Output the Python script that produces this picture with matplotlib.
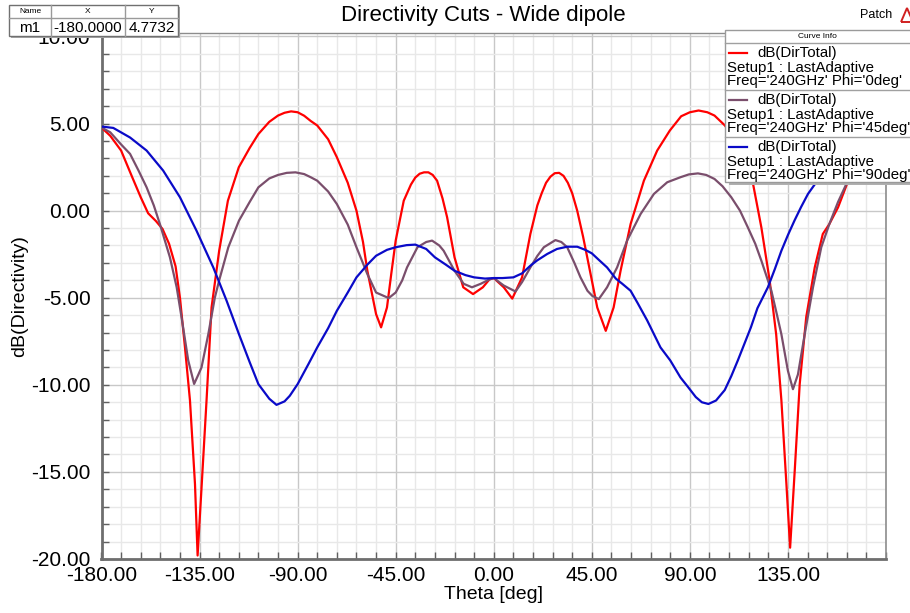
import matplotlib
matplotlib.use("Agg")
import matplotlib.pyplot as plt
from matplotlib.ticker import MultipleLocator, FixedLocator
from matplotlib.patches import Rectangle, Polygon
from matplotlib.lines import Line2D

plt.rcParams['font.family'] = ['Liberation Sans', 'DejaVu Sans']

# ---- directivity cuts (dB) ----
theta_phi0 = [-180, -176, -171, -166, -162, -158.6, -155, -152, -149, -146, -144,
              -141.7, -139.4, -137.1, -135.9, -134, -131.8, -129.5, -126, -122,
              -117, -112, -108, -103, -99, -96, -93, -90, -87, -84, -81, -76, -72,
              -67, -63, -60, -58, -54, -51.7, -49, -47, -45, -41.3, -38, -36, -34,
              -32, -30, -28, -26, -23.5, -21.4, -18, -14, -9.5, -5, -2, 0, 4.6,
              8.5, 13, 16.8, 20, 22, 24, 26, 28, 30, 32, 34, 36, 38.3, 41, 42.9,
              47.5, 51.4, 55, 58.2, 62.8, 68.9, 75, 80.8, 86, 90, 94, 98, 101.3,
              106, 110, 114, 117, 119, 122.8, 126.6, 129.6, 132, 134.3, 136, 138.2,
              140.4, 143.4, 147.3, 151, 154, 158, 162, 166, 171, 176, 180]
dir_phi0 = [4.77, 4.3, 3.45, 1.95, 0.77, -0.15, -0.6, -1.05, -1.9, -3.2, -5.0,
            -7.85, -10.9, -15.7, -19.8, -15.7, -10.9, -5.56, -2.3, 0.57,
            2.49, 3.6, 4.4, 5.1, 5.46, 5.62, 5.7, 5.65, 5.45, 5.15, 4.89, 4.1, 3.07,
            1.6, 0.0, -1.8, -3.45, -5.94, -6.7, -5.56, -3.6, -1.72, 0.57, 1.5, 1.9,
            2.12, 2.2, 2.2, 2.05, 1.72, 0.7, -0.38, -2.68, -4.4, -4.79, -4.4, -3.95,
            -3.87, -4.4, -5.05, -3.83, -1.34, 0.3, 1.0, 1.6, 1.95, 2.15, 2.17, 2.0,
            1.6, 1.0, 0.0, -1.5, -2.68, -5.56, -6.9, -5.56, -3.45, -0.77, 1.72, 3.45,
            4.6, 5.42, 5.65, 5.75, 5.65, 5.46, 4.9, 4.2, 3.3, 2.3, 1.53, -0.96, -4.0,
            -7.1, -10.9, -15.7, -19.35, -14.75, -9.96, -6.1, -3.26, -1.34, -0.77,
            0.19, 1.5, 2.3, 3.45, 4.3, 4.77]

theta_phi45 = [-180, -176, -171, -166.9, -163, -159.3, -156, -153.2, -148.6, -145.5,
               -143.3, -140.2, -137.5, -135.5, -134.1, -131, -128, -126, -121.8,
               -116.9, -112, -108, -103, -99, -95, -91, -87, -84, -81, -76, -72,
               -67, -63, -58, -54, -48.2, -45, -42, -39.8, -35, -31, -28.3, -25,
               -23, -18, -13.8, -10, -6, -2, 0, 4.6, 10, 13, 16.8, 20, 23, 28.3, 31,
               33.7, 37, 39.8, 43, 45.2, 48.2, 52, 56.6, 61.2, 67.4, 73.5, 79.6,
               85.7, 89.5, 93.7, 97.5, 101.3, 105, 109, 113, 116.6, 120, 122.8, 127.4,
               130, 132, 135, 137.3, 139.6, 142.7, 146.5, 150.3, 154, 158, 161.8,
               166, 171, 176, 180]
dir_phi45 = [4.77, 4.5, 3.8, 3.26, 2.3, 1.34, 0.3, -0.77, -2.68, -4.4,
             -6.1, -8.6, -9.95, -9.4, -9.0, -7.1, -5.0, -4.0, -2.1,
             -0.57, 0.5, 1.34, 1.85, 2.05, 2.17, 2.2, 2.1, 1.92, 1.72, 1.1, 0.38,
             -0.8, -2.1, -3.64, -4.7, -5.02, -4.7, -4.0, -3.26, -2.1, -1.8, -1.72,
             -2.0, -2.3, -3.45, -4.2, -4.4, -4.2, -3.95, -3.87, -4.3, -4.64, -4.1,
             -3.26, -2.6, -2.1, -1.69, -1.8, -2.1, -3.0, -3.83, -4.6, -4.89, -5.08,
             -4.4, -3.26, -1.72, -0.19, 0.96, 1.63, 1.92, 2.08, 2.14, 2.05, 1.82, 1.4,
             0.77, 0.0, -0.96, -1.9, -2.87, -4.6, -6.0, -7.1, -9.2, -10.25, -9.4,
             -7.1, -4.4, -2.1, -0.77, 0.5, 1.53, 2.8, 3.8, 4.5, 4.77]

theta_phi90 = [-180, -174.6, -166.9, -159.3, -151.7, -144, -136.4, -128.7, -122.6,
               -116.9, -112, -108, -103, -99.7, -96, -93.6, -90, -85, -81, -76,
               -72, -67, -63, -58, -54, -49, -45, -40, -36, -31, -27, -22, -18,
               -13, -9, -4, 0, 4, 9, 13, 16.8, 20, 24.5, 29, 33.7, 38.3, 42, 45, 48,
               52, 56, 59, 62.8, 66, 70.4, 76.5, 81, 85.7, 89, 92.7, 95.5, 98.5,
               102, 106, 109, 112, 118, 121, 125.8, 129, 132, 135, 138, 141, 144.2,
               148, 152, 155, 160, 166, 172, 176, 180]
dir_phi90 = [4.83, 4.75, 4.2, 3.45, 2.3, 0.77, -1.15, -3.26, -5.17,
             -7.1, -8.7, -9.96, -10.8, -11.15, -10.95, -10.63, -9.96, -8.8, -7.85,
             -6.75, -5.75, -4.7, -3.83, -3.1, -2.59, -2.25, -2.1, -1.98, -1.95, -2.2,
             -2.68, -3.1, -3.45, -3.7, -3.83, -3.9, -3.87, -3.87, -3.83, -3.6, -3.16,
             -2.85, -2.49, -2.2, -2.07, -2.07, -2.25, -2.45, -2.8, -3.26, -3.9, -4.2,
             -4.6, -5.3, -6.3, -7.85, -8.6, -9.58, -10.1, -10.7, -11.0, -11.1, -10.9,
             -10.3, -9.5, -8.6, -6.7, -5.6, -4.4, -3.35, -2.3, -1.4, -0.57, 0.2, 0.96,
             1.63, 2.3, 2.8, 3.5, 4.2, 4.6, 4.75, 4.77]

series = [
    (theta_phi0, dir_phi0, '#FF0000', "Freq='240GHz' Phi='0deg'"),
    (theta_phi45, dir_phi45, '#7A4E6C', "Freq='240GHz' Phi='45deg'"),
    (theta_phi90, dir_phi90, '#0A0AC8', "Freq='240GHz' Phi='90deg'"),
]

x_ticks = [-180, -135, -90, -45, 0, 45, 90, 135]
y_ticks = [10, 5, 0, -5, -10, -15, -20]

marker_name, marker_x, marker_y = 'm1', -180.0, 4.7732

W, H = 910, 613
fig = plt.figure(figsize=(W / 100, H / 100), dpi=100)
fig.patch.set_facecolor('white')

x0, x1, y0, y1 = 101.5, 886, 33, 559
ax = fig.add_axes([x0 / W, 1 - y1 / H, (x1 - x0) / W, (y1 - y0) / H])

for th, val, col, _ in series:
    ax.plot(th, val, color=col, lw=1.6, solid_joinstyle='round', zorder=3)

ax.set_xlim(-180, 180)
ax.set_ylim(-20, 10.2)
ax.xaxis.set_major_locator(FixedLocator(x_ticks))
ax.xaxis.set_minor_locator(MultipleLocator(9))
ax.yaxis.set_major_locator(FixedLocator(y_ticks))
ax.yaxis.set_minor_locator(MultipleLocator(1))
ax.set_xticklabels([f"{v:.2f}" for v in x_ticks])
ax.set_yticklabels([f"{v:.2f}" for v in y_ticks])

ax.grid(which='major', color='#C8C8C8', lw=1.0, zorder=0)
ax.grid(which='minor', color='#E8E8E8', lw=1.0, zorder=0)
ax.set_axisbelow(True)

ax.tick_params(which='both', direction='in', length=5, width=1, color='#606060',
               labelsize=15, labelcolor='black')
ax.tick_params(axis='x', pad=5)
ax.tick_params(axis='y', pad=8)

for side in ('left', 'bottom'):
    ax.spines[side].set_color('#6E6E6E')
    ax.spines[side].set_linewidth(2)
ax.spines['right'].set_color('#8C8C8C')
ax.spines['right'].set_linewidth(1.2)
ax.spines['top'].set_color('#8C8C8C')
ax.spines['top'].set_linewidth(1.0)

ax.set_xlabel('Theta [deg]', fontsize=14, labelpad=1)
ax.set_ylabel('dB(Directivity)', fontsize=14, labelpad=2)

fig.text(483 / W, 1 - 15 / H, 'Directivity Cuts - Wide dipole', fontsize=16,
         ha='center', va='center')
fig.text(876 / W, 1 - 15 / H, 'Patch', fontsize=9, ha='center', va='center')
fig.patches.append(Polygon([(901 / W, 1 - 22 / H), (907 / W, 1 - 8 / H), (913 / W, 1 - 22 / H)],
                           closed=True, fill=False, edgecolor='#D02020', lw=1.4,
                           transform=fig.transFigure, figure=fig))


def px(x, y):
    return (x / W, 1 - y / H)


def box(x, y, w, h, fc='white', ec='#9A9A9A', lw=1.0, z=10):
    r = Rectangle(px(x, y + h), w / W, h / H, facecolor=fc, edgecolor=ec, lw=lw,
                  transform=fig.transFigure, figure=fig, zorder=z)
    fig.patches.append(r)


def hline(xa, xb, y, color='#A0A0A0', lw=1.0, z=11):
    fig.lines.append(Line2D([xa / W, xb / W], [1 - y / H, 1 - y / H], color=color, lw=lw,
                            transform=fig.transFigure, figure=fig, zorder=z))


def vline(x, ya, yb, color='#A0A0A0', lw=1.0, z=11):
    fig.lines.append(Line2D([x / W, x / W], [1 - ya / H, 1 - yb / H], color=color, lw=lw,
                            transform=fig.transFigure, figure=fig, zorder=z))


# marker readout table
box(11, 7, 169, 31, fc='#A8A8A8', ec='none', z=9)
box(9, 5, 169, 31, fc='white', ec='#707070', lw=1.0, z=10)
hline(9, 178, 18, color='#9A9A9A')
vline(51, 5, 36, color='#9A9A9A')
vline(125, 5, 36, color='#9A9A9A')
for cx, t in [(30, 'Name'), (88, 'X'), (151.5, 'Y')]:
    fig.text(cx / W, 1 - 11.5 / H, t, fontsize=6, ha='center', va='center', zorder=12)
for cx, t in [(30, marker_name), (88, f"{marker_x:.4f}"), (151.5, f"{marker_y:.4f}")]:
    fig.text(cx / W, 1 - 27.5 / H, t, fontsize=11, ha='center', va='center', zorder=12)

# curve info panel
box(729, 33, 190, 152, fc='#B0B0B0', ec='none', z=9)
box(725, 30, 190, 152, fc='white', ec='#9A9A9A', lw=1.0, z=10)
fig.text(817 / W, 1 - 37 / H, 'Curve Info', fontsize=6, ha='center', va='center', zorder=12)
hline(725, 910, 43)
row_top = [43, 90, 137]
for (th, val, col, freq), top in zip(series, row_top):
    y_a = top + 10
    hline(729, 747, y_a, color=col, lw=1.6, z=12)
    fig.text(757 / W, 1 - y_a / H, 'dB(DirTotal)', fontsize=10.8, ha='left', va='center', zorder=12)
    fig.text(727 / W, 1 - (top + 25) / H, 'Setup1 : LastAdaptive', fontsize=10.8,
             ha='left', va='center', zorder=12)
    fig.text(727 / W, 1 - (top + 38) / H, freq, fontsize=10.8, ha='left', va='center', zorder=12)
    if top != 137:
        hline(725, 910, top + 47)

fig.savefig('out.png', dpi=100, facecolor='white')
